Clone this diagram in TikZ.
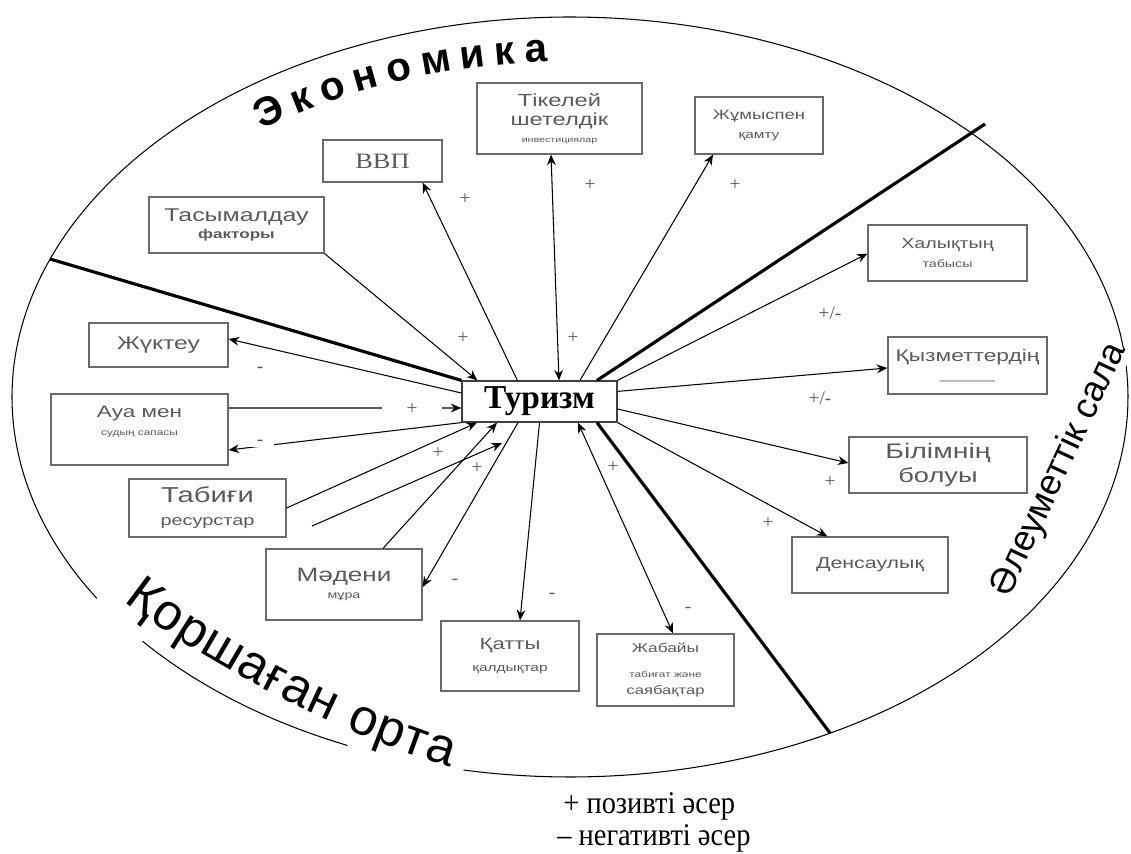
\documentclass[tikz,border=0pt]{standalone}
\usepackage{fontspec}
\setmainfont{Liberation Sans}
\newfontfamily\tnr{Liberation Serif}
\usepackage{graphicx}
\usetikzlibrary{arrows.meta,decorations.text,calc}
\definecolor{boxgray}{HTML}{6A6A6A}
\definecolor{txtgray}{HTML}{5A5A5A}
\newcommand{\hs}[2]{\scalebox{1.35}[1]{\fontsize{#1}{#1}\selectfont #2}}
\begin{document}
\begin{tikzpicture}[x=0.02cm,y=-0.02cm,
  box/.style={draw=boxgray, line width=0.7pt, inner sep=0pt, align=center, text=txtgray},
  conn/.style={line width=0.6pt, -{Stealth[length=6pt,width=5pt]}},
  both/.style={line width=0.6pt, {Stealth[length=6pt,width=5pt]}-{Stealth[length=6pt,width=5pt]}},
  divider/.style={line width=1.8pt},
  sign/.style={font=\tnr\fontsize{11}{11}\selectfont, text=txtgray, inner sep=1pt},
  gapsign/.style={sign, fill=white, inner xsep=6pt},
  oval/.style={line width=0.6pt}
]
\useasboundingbox (0,0) rectangle (1131,854);

% outline
\draw[oval] plot[smooth, samples=120, domain=12:212, variable=\t] ({570+558*cos(\t)},{397-380*sin(\t)});
\draw[oval] plot[smooth, samples=20, domain=220:246.5, variable=\t] ({570+558*cos(\t)},{397-380*sin(\t)});
\draw[oval] plot[smooth, samples=60, domain=259:372, variable=\t] ({570+558*cos(\t)},{397-380*sin(\t)});

% sector titles
\path[decorate, decoration={text along path, text align={fit to path},
   text={|\bfseries\fontsize{23}{23}\selectfont|Экономика}}]
   (262,130) .. controls (344,89) and (445,65) .. (548,62);
\path[decorate, decoration={text along path, text align={fit to path},
   text={|\fontsize{29}{29}\selectfont|Қоршаған орта}}]
   (124,601) .. controls (196,658) and (336,733) .. (450,767);
\node[rotate=65, font=\fontsize{20.5}{21}\selectfont, inner sep=0pt, fill=white] (soc) at (1059,470) {Әлеуметтік сала};

% boxes
\node[box, draw=black!75, text=black, minimum width=3.1cm, minimum height=0.82cm,
      font=\tnr\bfseries\fontsize{19}{19}\selectfont] (tur) at (539.5,401.5) {Туризм};
\node[box, minimum width=2.38cm, minimum height=0.84cm] (vvp) at (382.5,161)
  {\scalebox{1.2}[1]{\tnr\fontsize{12.5}{13}\selectfont ВВП}};
\node[box, minimum width=3.5cm, minimum height=1.12cm, font=\fontsize{6}{10pt}\selectfont] (tas) at (236.5,225)
  {\hs{10.5}{Тасымалдау}\\\hs{7.2}{\bfseries факторы}};
\node[box, minimum width=3.3cm, minimum height=1.42cm, font=\fontsize{6}{11pt}\selectfont] (tik) at (559.5,118.5)
  {\hs{10}{Тікелей}\\\hs{10}{шетелдік}\\[-1.4pt]\hs{4.5}{инвестициялар}};
\node[box, minimum width=2.56cm, minimum height=1.14cm, font=\fontsize{6}{11pt}\selectfont] (jum) at (759,125.5)
  {\hs{7.8}{Жұмыспен}\\\hs{6.5}{қамту}};
\node[box, minimum width=3.18cm, minimum height=1.12cm, font=\fontsize{6}{11pt}\selectfont] (hal) at (947.5,253)
  {\hs{8.3}{Халықтың}\\\hs{6}{табысы}};
\node[box, minimum width=3.18cm, minimum height=1.14cm, font=\fontsize{6}{12pt}\selectfont] (qyz) at (967.5,365.5)
  {\hs{9.6}{Қызметтердің}\\\textcolor{black!25}{\rule{1.1cm}{1.5pt}}};
\node[box, minimum width=3.56cm, minimum height=1.12cm, font=\fontsize{6}{13.6pt}\selectfont] (bil) at (938,465)
  {\hs{12}{Білімнің}\\\hs{11.5}{болуы}};
\node[box, minimum width=3.12cm, minimum height=1.12cm] (den) at (870,565)
  {\hs{9}{Денсаулық}};
\node[box, minimum width=2.78cm, minimum height=0.88cm] (zhu) at (158.5,345)
  {\hs{10.4}{Жүктеу}};
\node[box, minimum width=3.54cm, minimum height=1.42cm, font=\fontsize{6}{10pt}\selectfont] (aua) at (139.5,429.5)
  {\hs{9.5}{Ауа мен}\\\hs{5}{судың сапасы}\\\mbox{}};
\node[box, minimum width=3.14cm, minimum height=1.16cm, font=\fontsize{6}{13pt}\selectfont] (tab) at (207.5,508)
  {\hs{12.3}{Табиғи}\\\hs{8.4}{ресурстар}};
\node[box, minimum width=3.12cm, minimum height=1.42cm, font=\fontsize{6}{10pt}\selectfont] (mad) at (344,584.5)
  {\hs{11}{Мәдени}\\\hs{6}{мұра}};
\node[box, minimum width=2.76cm, minimum height=1.4cm, font=\fontsize{6}{12.5pt}\selectfont] (qat) at (510,656)
  {\hs{9.3}{Қатты}\\\hs{6.5}{қалдықтар}};
\node[box, minimum width=2.74cm, minimum height=1.44cm, font=\fontsize{6}{10pt}\selectfont] (jab) at (665.5,670)
  {\hs{7.3}{Жабайы}\\[4pt]\hs{5}{табиғат және}\\\hs{7}{саябақтар}};

% dividers
\coordinate (dL) at (50,259);
\coordinate (dR) at (985,124);
\coordinate (dB) at (830,733);
\draw[divider] (dL) -- (tur.north west);
\draw[divider] ([xshift=1.15cm]tur.north) -- (dR);
\draw[divider] ([xshift=1.15cm]tur.south) -- (dB);

% connectors
\draw[conn] (tas.south east) -- ([xshift=0.32cm]tur.north west);
\draw[conn] ([xshift=1.12cm]tur.north west) -- ([xshift=-0.4cm]vvp.south east);
\draw[both] ([xshift=-0.17cm]tik.south) -- ([xshift=0.39cm]tur.north);
\draw[conn] ([xshift=0.81cm]tur.north) -- ([xshift=-0.92cm]jum.south);
\draw[conn] (tur.north east) -- ([yshift=0.56cm]hal.south west);
\draw[conn] ([yshift=-0.22cm]tur.north east) -- ([yshift=-0.05cm]qyz.west);
\draw[conn] ([yshift=-0.15cm]tur.east) -- ([yshift=0.04cm]bil.west);
\draw[conn] (tur.south east) -- ([xshift=0.72cm]den.north west);
\draw[both] ([xshift=0.77cm]tur.south) -- ([xshift=0.15cm]jab.north);
\draw[conn] (tur.south) -- ([xshift=0.2cm]qat.north);
\draw[conn] ([xshift=-0.43cm]tur.south) -- ([yshift=-0.05cm]mad.east);
\draw[conn] ([xshift=0.78cm]mad.north) -- ([xshift=-0.85cm]tur.south);
\draw[conn] (tab.east) -- ([xshift=-1.25cm]tur.south);
\coordinate (t2a) at (312,526);
\coordinate (t2b) at (502,443);
\draw[conn] (t2a) -- (t2b);
\draw[conn] ([yshift=0.43cm]aua.east) -- ([yshift=-0.13cm]tur.west);
\draw[conn] (tur.south west) -- ([yshift=-0.41cm]aua.east);
\draw[conn] ([yshift=0.17cm]tur.west) -- ([yshift=0.12cm]zhu.east);

% signs
\node[sign] (s1) at (463,338) {+};
\node[sign] (s2) at (465,199) {+};
\node[sign] (s3) at (590,185) {+};
\node[sign] (s4) at (735,185) {+};
\node[sign] (s5) at (573,338) {+};
\node[sign] (s6) at (830,313) {+/-};
\node[sign] (s7) at (820,398) {+/-};
\node[sign] (s8) at (830,482) {+};
\node[sign] (s9) at (768,523) {+};
\node[sign] (s10) at (613,467) {+};
\node[sign] (s11) at (688,610) {-};
\node[sign] (s12) at (552,596) {-};
\node[sign] (s13) at (455,582) {-};
\node[sign] (s14) at (477,468) {+};
\node[sign] (s15) at (438,453) {+};
\node[gapsign] (s16) at (260,443) {-};
\node[gapsign, inner xsep=14pt] (s17) at (412,409) {+};
\node[sign] (s18) at (260,370) {-};

% legend
\node[anchor=base west, inner sep=0pt, font=\tnr\fontsize{18}{18}\selectfont] (leg1) at (563,813)
  {\scalebox{0.9}[1]{+ позивті әсер}};
\node[anchor=base west, inner sep=0pt, font=\tnr\fontsize{18}{18}\selectfont] (leg2) at (557,845)
  {\scalebox{0.9}[1]{– негативті әсер}};
\end{tikzpicture}
\end{document}
